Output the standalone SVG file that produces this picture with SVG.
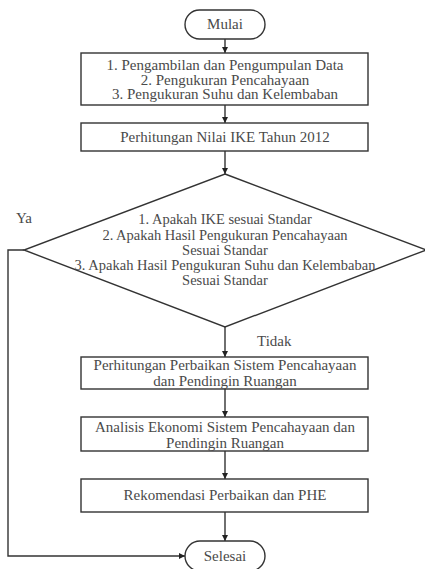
<svg xmlns="http://www.w3.org/2000/svg" width="425" height="569" viewBox="0 0 425 569">
<defs>
<marker id="ah" viewBox="0 0 8 8" refX="8" refY="4" markerWidth="6" markerHeight="6" markerUnits="userSpaceOnUse" orient="auto">
<path d="M0,0 L8,4 L0,8 z" fill="#222"/>
</marker>
<style>
.s{fill:#fff;stroke:#333;stroke-width:1.4}
.c{fill:none;stroke:#333;stroke-width:1.4;marker-end:url(#ah)}
.t{font-family:"Liberation Serif","Times New Roman",serif;font-size:15px;fill:#4a4a4a;text-anchor:middle}
.d{font-size:14.5px}
.l{font-family:"Liberation Serif","Times New Roman",serif;font-size:15px;fill:#4a4a4a}
</style>
</defs>
<rect width="425" height="569" fill="#fff"/>
<g id="connectors">
<line class="c" x1="225" y1="39" x2="225" y2="53"/>
<line class="c" x1="225" y1="105" x2="225" y2="123"/>
<line class="c" x1="225" y1="151" x2="225" y2="174"/>
<line class="c" x1="225" y1="327" x2="225" y2="357"/>
<line class="c" x1="225" y1="389" x2="225" y2="417"/>
<line class="c" x1="225" y1="451" x2="225" y2="479"/>
<line class="c" x1="225" y1="512" x2="225" y2="541"/>
<polyline class="c" points="24,250 8,250 8,556 185,556"/>
<text class="l" x="16" y="223">Ya</text>
<text class="l" x="257" y="346">Tidak</text>
</g>
<g id="mulai">
<rect class="s" x="185" y="10" width="80" height="29" rx="14.5"/>
<text class="t" x="225" y="29">Mulai</text>
</g>
<g id="data">
<rect class="s" x="81" y="53" width="287" height="52"/>
<text class="t" x="225" y="70">1. Pengambilan dan Pengumpulan Data</text>
<text class="t" x="225" y="84.5">2. Pengukuran Pencahayaan</text>
<text class="t" x="225" y="99">3. Pengukuran Suhu dan Kelembaban</text>
</g>
<g id="ike">
<rect class="s" x="81" y="123" width="287" height="28"/>
<text class="t" x="225" y="142">Perhitungan Nilai IKE Tahun 2012</text>
</g>
<g id="decision">
<polygon class="s" points="225,174 426,250 225,327 24,250"/>
<text class="t d" x="225" y="224">1. Apakah IKE sesuai Standar</text>
<text class="t d" x="225" y="239.5">2. Apakah Hasil Pengukuran Pencahayaan</text>
<text class="t d" x="225" y="255">Sesuai Standar</text>
<text class="t d" x="225" y="270">3. Apakah Hasil Pengukuran Suhu dan Kelembaban</text>
<text class="t d" x="225" y="285">Sesuai Standar</text>
</g>
<g id="perbaikan">
<rect class="s" x="81" y="357" width="287" height="32"/>
<text class="t" x="225" y="370">Perhitungan Perbaikan Sistem Pencahayaan</text>
<text class="t" x="225" y="386">dan Pendingin Ruangan</text>
</g>
<g id="ekonomi">
<rect class="s" x="81" y="417" width="287" height="34"/>
<text class="t" x="225" y="432">Analisis Ekonomi Sistem Pencahayaan dan</text>
<text class="t" x="225" y="448">Pendingin Ruangan</text>
</g>
<g id="rekomendasi">
<rect class="s" x="81" y="479" width="287" height="33"/>
<text class="t" x="225" y="500">Rekomendasi Perbaikan dan PHE</text>
</g>
<g id="selesai">
<rect class="s" x="185" y="541" width="80" height="30" rx="15"/>
<text class="t" x="225" y="561">Selesai</text>
</g>
</svg>
